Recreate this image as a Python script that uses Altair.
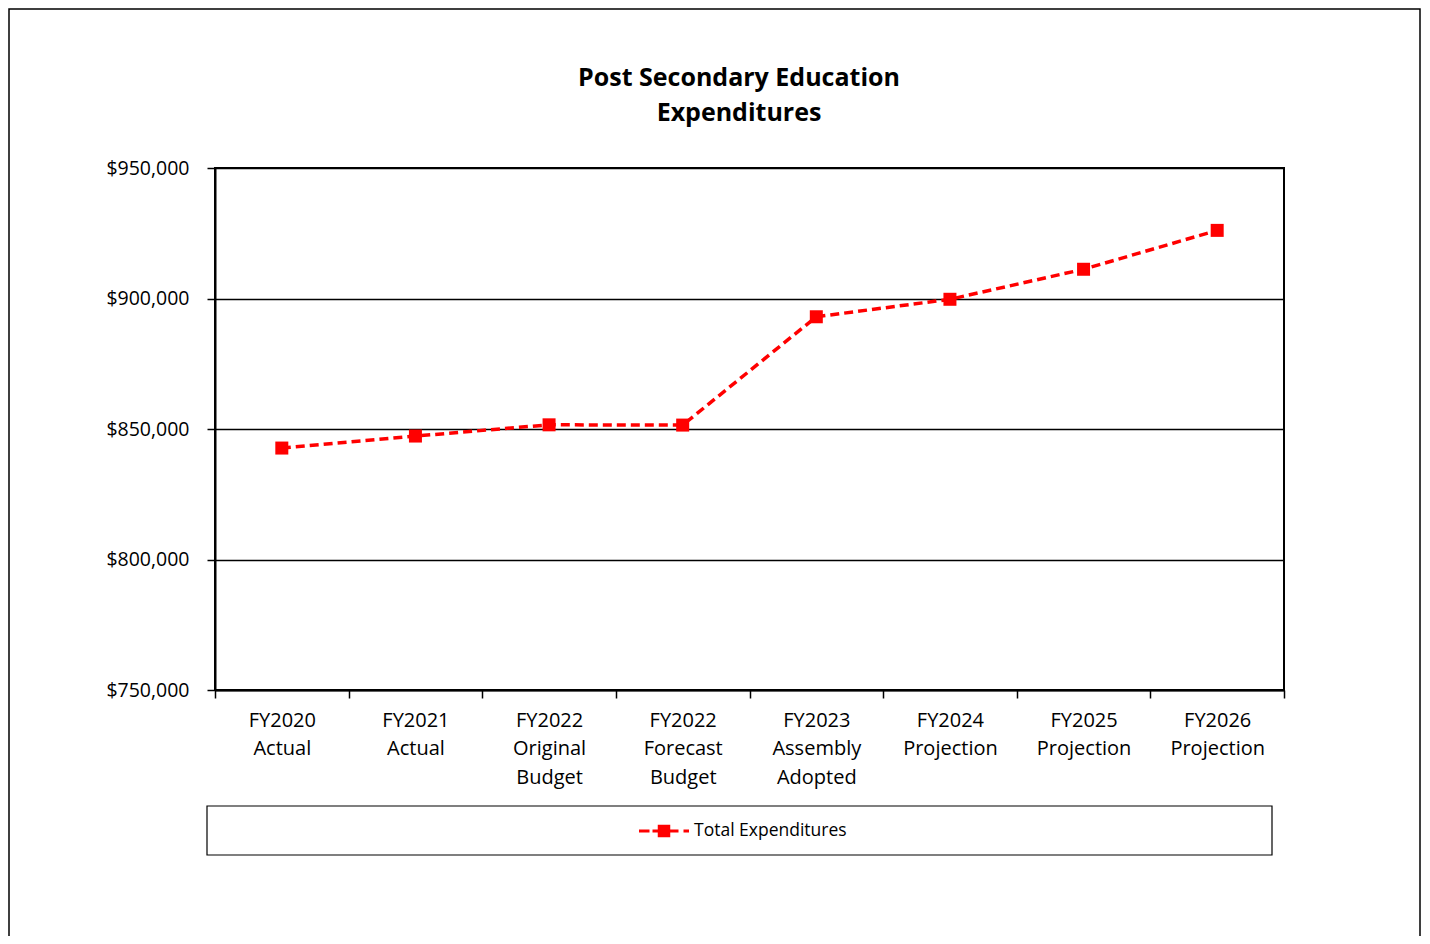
import altair as alt
import pandas as pd

categories = [
    "FY2020 Actual",
    "FY2021 Actual",
    "FY2022 Original Budget",
    "FY2022 Forecast Budget",
    "FY2023 Assembly Adopted",
    "FY2024 Projection",
    "FY2025 Projection",
    "FY2026 Projection",
]
values = [842700, 847300, 851600, 851500, 893000, 899700, 911200, 926100]
series = ["Total Expenditures"] * len(categories)
y_ticks = [750000, 800000, 850000, 900000, 950000]
title_lines = ["Post Secondary Education", "Expenditures"]

df = pd.DataFrame({"category": categories, "value": values, "series": series})
deco = pd.DataFrame({"k": [0]})

W, H = 1069, 522
FONT = "Open Sans"
RED = "#FF0000"

SYM = ("M-1,-0.06H-0.58V0.06H-1Z "
       "M-0.46,-0.06H0.58V0.06H-0.46Z "
       "M-0.25,-0.25H0.25V0.25H-0.25Z "
       "M0.78,-0.06H1V0.06H0.78Z")

x_enc = alt.X(
    "category:N",
    sort=categories,
    bandPosition=0.5,
    scale=alt.Scale(type="band", paddingInner=0, paddingOuter=0),
    axis=alt.Axis(
        title=None, labelAngle=0, tickBand="extent",
        labelExpr="isValid(datum.value) ? split(datum.value, ' ') : ''",
        labelFont=FONT, labelFontSize=20, labelLineHeight=28.5,
        labelColor="black", labelBaseline="top", labelPadding=12,
        labelOverlap=False, labelLimit=300,
        tickColor="black", tickSize=8, tickWidth=1.5,
        domainColor="black", domainWidth=2, grid=False,
    ),
)
y_enc = alt.Y(
    "value:Q",
    scale=alt.Scale(domain=[750000, 950000], nice=False, zero=False),
    axis=alt.Axis(
        title=None, values=y_ticks, format="$,.0f",
        labelFont=FONT, labelFontSize=19.5, labelColor="black", labelPadding=18,
        grid=True, gridColor="black", gridWidth=1.5,
        tickColor="black", tickSize=8, tickWidth=1.5,
        domainColor="black", domainWidth=2,
    ),
)

line = alt.Chart(df).mark_line(
    color=RED, strokeDash=[9, 5], strokeWidth=3.5
).encode(x=x_enc, y=y_enc)

points = alt.Chart(df).mark_point(
    shape="square", filled=True, size=169, opacity=1
).encode(
    x=x_enc, y=y_enc,
    color=alt.Color(
        "series:N",
        scale=alt.Scale(range=[RED]),
        legend=alt.Legend(
            title=None, orient="none", legendX=424, legendY=638,
            symbolType=SYM, symbolSize=2500, symbolFillColor=RED,
            symbolStrokeWidth=0, symbolOpacity=1,
            labelFont=FONT, labelFontSize=17.5, labelColor="black", labelOffset=5,
        ),
    ),
)

legend_box = alt.Chart(deco).mark_rect(
    fill="transparent", stroke="black", strokeWidth=1.2
).encode(x=alt.value(-8), x2=alt.value(1057), y=alt.value(638), y2=alt.value(687))

outer_box = alt.Chart(deco).mark_rect(
    fill="transparent", stroke="black", strokeWidth=1.5
).encode(x=alt.value(-206), x2=alt.value(1205), y=alt.value(-159), y2=alt.value(900))

title = alt.Chart(deco).mark_text(
    font=FONT, fontSize=25, fontWeight="bold", color="black",
    align="center", baseline="alphabetic", lineHeight=35,
).encode(x=alt.value(524), y=alt.value(-82), text=alt.value(title_lines))

chart = alt.layer(outer_box, legend_box, title, line, points).properties(
    width=W,
    height=H,
    autosize=alt.AutoSizeParams(type="none"),
    padding={"left": 207, "top": 160, "right": 138, "bottom": 246},
    background="white",
).configure_view(stroke="black", strokeWidth=2)

chart.save("out.html", embed_options={"renderer": "svg", "actions": False})
